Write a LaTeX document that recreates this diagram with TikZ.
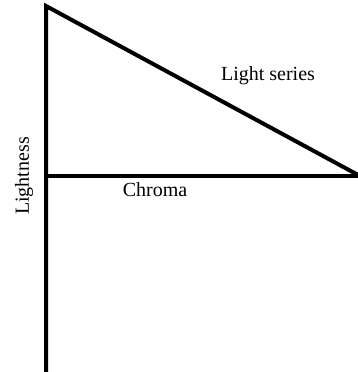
\documentclass[tikz,border=0pt]{standalone}
\usepackage{fontspec}
\setmainfont{Liberation Serif}
\usetikzlibrary{positioning}

\begin{document}
\begin{tikzpicture}[
    x=1pt, y=1pt,
    every node/.style={inner sep=0pt},
    axisline/.style={draw=black, line width=4pt},
    label/.style={font=\fontsize{20}{24}\selectfont, text=black},
]
\useasboundingbox (0,0) rectangle (357,372);

% === corner points ===
\coordinate (base) at (46,0);
\coordinate (top) at (46,366);
\coordinate (mid) at (46,196);
\coordinate (tip) at (360,196);

% === lines ===
\draw[axisline] (base) -- (top) -- (tip);
\draw[axisline] (mid) -- (tip);

% === labels ===
\node[label] (series) at (268,296) {Light series};
\node[label] (chroma) at (155,182) {Chroma};
\node[label, rotate=90] (lightness) at (24,196) {Lightness};

\end{tikzpicture}
\end{document}
